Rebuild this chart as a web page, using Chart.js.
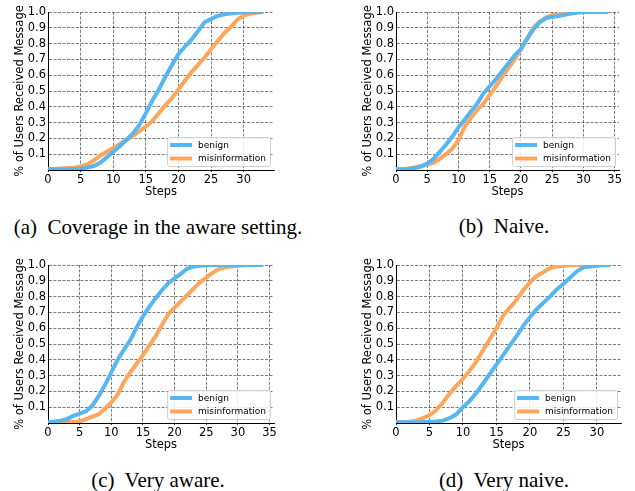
<!DOCTYPE html>
<html><head><meta charset="utf-8">
<script src="https://cdn.jsdelivr.net/npm/chart.js@4"></script>
<style>
html,body{margin:0;padding:0;background:#fff;width:635px;height:491px;overflow:hidden;position:relative}
canvas{position:absolute}
.cap{position:absolute;font-family:"Liberation Serif","Times New Roman",serif;font-size:21px;color:#000;text-align:center;white-space:pre;height:30px;line-height:30px;width:320px}
</style></head><body>
<canvas id="ca" style="left:0;top:0" width="320" height="205"></canvas>
<canvas id="cb" style="left:330px;top:0" width="305" height="205"></canvas>
<canvas id="cc" style="left:0;top:253px" width="320" height="205"></canvas>
<canvas id="cd" style="left:330px;top:253px" width="305" height="205"></canvas>
<div class="cap" id="capa" style="left:-2px;top:212px"></div>
<div class="cap" id="capb" style="left:344px;top:211px"></div>
<div class="cap" id="capc" style="left:-2px;top:465px"></div>
<div class="cap" id="capd" style="left:344px;top:465px"></div>
<script>
// ---- data ----
const seriesLabels = ['benign', 'misinformation'];
const yTickValues = [0.1,0.2,0.3,0.4,0.5,0.6,0.7,0.8,0.9,1.0];
const captions = ['(a)  Coverage in the aware setting.', '(b)  Naive.', '(c)  Very aware.', '(d)  Very naive.'];

const stepsA = [0,1,2,3,4,5,6,7,8,9,10,11,12,13,14,15,16,17,18,19,20,21,22,23,24,25,26,27,28,29,30,31,32,33];
const benignA = [0.005,0.005,0.005,0.005,0.005,0.008,0.015,0.025,0.045,0.08,0.115,0.15,0.19,0.23,0.285,0.36,0.44,0.51,0.59,0.665,0.735,0.78,0.825,0.88,0.935,0.955,0.975,0.985,0.99,0.995,0.998,1,1,1];
const misinfoA = [0.005,0.007,0.01,0.012,0.015,0.022,0.035,0.06,0.09,0.115,0.14,0.165,0.19,0.215,0.245,0.275,0.31,0.36,0.41,0.455,0.51,0.565,0.62,0.665,0.71,0.765,0.815,0.865,0.905,0.95,0.978,0.988,0.995,1.0];

const stepsB = [0,1,2,3,4,5,6,7,8,9,10,11,12,13,14,15,16,17,18,19,20,21,22,23,24,25,26,27,28,29,30,31,32,33,34];
const benignB = [0.005,0.005,0.007,0.012,0.022,0.04,0.07,0.115,0.16,0.21,0.27,0.32,0.37,0.42,0.485,0.53,0.575,0.625,0.675,0.725,0.765,0.83,0.89,0.935,0.96,0.97,0.975,0.982,0.99,0.995,1,1,1,1,1];
const misinfoB = [0.005,0.006,0.01,0.016,0.025,0.035,0.045,0.07,0.1,0.135,0.19,0.275,0.33,0.38,0.42,0.475,0.53,0.59,0.645,0.7,0.765,0.835,0.9,0.94,0.965,0.98,0.985,0.99,0.995,1,1,1,1,1,1];

const stepsC = [0,1,2,3,4,5,6,7,8,9,10,11,12,13,14,15,16,17,18,19,20,21,22,23,24,25,26,27,28,29,30,31,32,33,34];
const benignC = [0.005,0.01,0.015,0.025,0.045,0.06,0.075,0.11,0.17,0.24,0.32,0.4,0.465,0.525,0.605,0.675,0.735,0.79,0.84,0.885,0.915,0.945,0.978,0.99,0.995,1,1,1,1,1,1,1,1,1,1];
const misinfoC = [0.005,0.005,0.005,0.006,0.008,0.01,0.025,0.04,0.055,0.09,0.13,0.18,0.26,0.32,0.375,0.43,0.49,0.55,0.62,0.69,0.73,0.77,0.81,0.85,0.89,0.92,0.95,0.975,0.985,0.99,0.995,1,1,1,1];

const stepsD = [0,1,2,3,4,5,6,7,8,9,10,11,12,13,14,15,16,17,18,19,20,21,22,23,24,25,26,27,28,29,30,31,32];
const benignD = [0.005,0.005,0.005,0.005,0.006,0.008,0.01,0.015,0.03,0.055,0.1,0.14,0.19,0.25,0.31,0.37,0.43,0.49,0.55,0.615,0.67,0.72,0.76,0.8,0.845,0.88,0.92,0.96,0.985,0.99,0.995,1,1];
const misinfoD = [0.005,0.005,0.008,0.015,0.03,0.05,0.08,0.13,0.185,0.235,0.28,0.33,0.39,0.46,0.53,0.6,0.68,0.73,0.78,0.84,0.89,0.93,0.955,0.98,0.99,0.995,1,1,1,1,1,1,1];

// ---- styling ----
const BLUE = '#55b6f2', ORANGE = '#fea65c';
const FS = 11.5;
Chart.defaults.font.family = '"DejaVu Sans", sans-serif';
Chart.defaults.color = '#000';

const legendBox = {
  id: 'legendBox',
  afterDraw(chart) {
    const {ctx, chartArea: a} = chart;
    ctx.save();
    ctx.font = '9px "DejaVu Sans"';
    const tw = Math.max(...chart.data.datasets.map(d => ctx.measureText(d.label).width));
    const w = 31 + tw + 4, h = 29;
    const x = a.right - 4 - w, y = a.bottom - 4 - h;
    ctx.beginPath();
    ctx.roundRect(x + 0.5, y + 0.5, w, h, 2);
    ctx.fillStyle = 'rgba(255,255,255,0.85)';
    ctx.fill();
    ctx.strokeStyle = '#d0d0d0';
    ctx.lineWidth = 1;
    ctx.stroke();
    chart.data.datasets.forEach((d, i) => {
      const ly = y + 8 + i * 13.5;
      ctx.strokeStyle = d.borderColor;
      ctx.lineWidth = 4;
      ctx.beginPath(); ctx.moveTo(x + 3, ly); ctx.lineTo(x + 25, ly); ctx.stroke();
      ctx.fillStyle = '#000';
      ctx.textBaseline = 'middle';
      ctx.fillText(d.label, x + 31, ly + 0.5);
    });
    ctx.restore();
  }
};

function makeChart(id, steps, benign, misinfo, plotL, plotR, xMax) {
  const el = document.getElementById(id);
  const H = el.height, W = el.width;
  const toXY = (arr) => steps.map((s, i) => ({x: s, y: arr[i]}));
  return new Chart(el, {
    type: 'line',
    data: {
      datasets: [
        {label: seriesLabels[0], data: toXY(benign), borderColor: BLUE, borderWidth: 4, pointRadius: 0, tension: 0, fill: false},
        {label: seriesLabels[1], data: toXY(misinfo), borderColor: ORANGE, borderWidth: 4, pointRadius: 0, tension: 0, fill: false}
      ]
    },
    options: {
      responsive: false,
      animation: false,
      devicePixelRatio: 1,
      layout: {padding: {left: 0, top: 12, right: W - plotR, bottom: 0}},
      plugins: {legend: {display: false}, tooltip: {enabled: false}},
      scales: {
        x: {
          type: 'linear', min: 0, max: xMax,
          afterFit: (s) => { s.height = H - 170; },
          ticks: {stepSize: 5, includeBounds: false, font: {size: FS}, padding: 1, maxRotation: 0, autoSkip: false,
                  callback: (v) => String(v)},
          grid: {color: 'rgba(50,50,50,0.8)', lineWidth: 0.8, tickLength: 2, tickColor: '#000'},
          border: {display: true, color: '#000', width: 1, dash: [3, 1.5]},
          title: {display: true, text: 'Steps', font: {size: FS}, padding: {top: 0, bottom: 6}}
        },
        y: {
          type: 'linear', min: 0, max: 1,
          afterFit: (s) => { s.width = plotL; },
          afterBuildTicks: (s) => { s.ticks = [{value: 0}].concat(yTickValues.map(v => ({value: v}))); },
          ticks: {font: {size: FS}, padding: 2, autoSkip: false,
                  callback: (v) => v === 0 ? '' : Number(v).toFixed(1)},
          grid: {color: 'rgba(50,50,50,0.8)', lineWidth: 0.8, tickLength: 0},
          border: {display: true, color: '#000', width: 1, dash: [3, 1.5]},
          title: {display: true, text: '% of Users Received Message', font: {size: FS}, padding: {top: plotL - 27.5 - 6.9, bottom: 0}}
        }
      }
    },
    plugins: [legendBox]
  });
}

makeChart('ca', stepsA, benignA, misinfoA, 48, 274, 34.65);
makeChart('cb', stepsB, benignB, misinfoB, 66, 289, 35.7);
makeChart('cc', stepsC, benignC, misinfoC, 48, 274, 35.7);
makeChart('cd', stepsD, benignD, misinfoD, 66, 291, 33.6);

['capa','capb','capc','capd'].forEach((id, i) => { document.getElementById(id).textContent = captions[i]; });
</script>
</body></html>
